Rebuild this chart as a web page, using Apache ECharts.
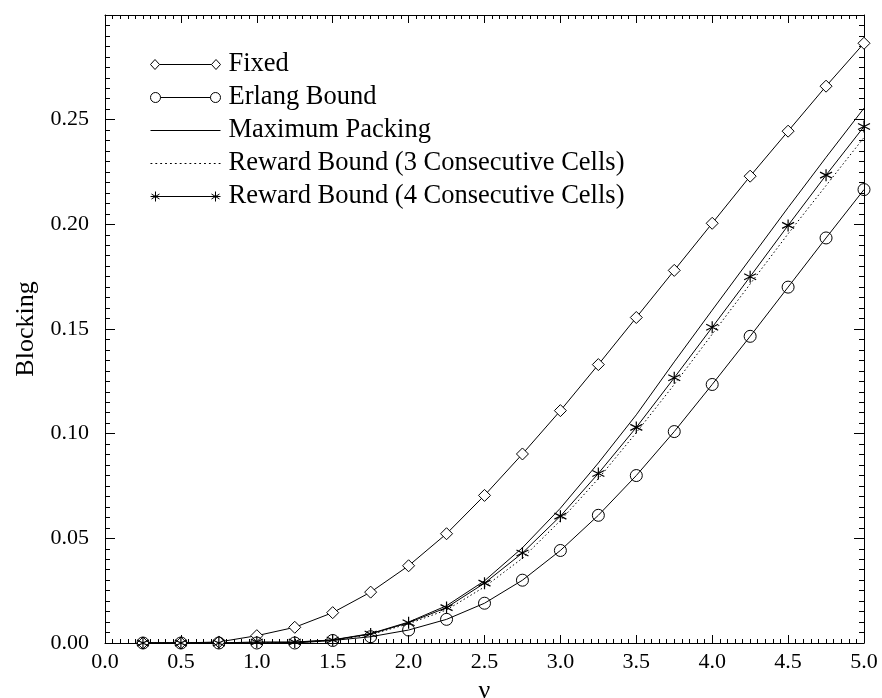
<!DOCTYPE html>
<html>
<head>
<meta charset="utf-8">
<script src="https://cdn.jsdelivr.net/npm/echarts@6/dist/echarts.min.js"></script>
<style>
html,body{margin:0;padding:0;background:#fff;}
#chart{width:882px;height:698px;}
</style>
</head>
<body>
<div id="chart"></div>
<script>
// ---- data ----
var nuValues = [0.25, 0.5, 0.75, 1.0, 1.25, 1.5, 1.75, 2.0, 2.25, 2.5, 2.75, 3.0, 3.25, 3.5, 3.75, 4.0, 4.25, 4.5, 4.75, 5.0];
var fixed = [0, 0, 0.0005, 0.0035, 0.0075, 0.0145, 0.0243, 0.0369, 0.0522, 0.0705, 0.0903, 0.111, 0.133, 0.1555, 0.178, 0.2005, 0.223, 0.2445, 0.266, 0.2865];
var erlangBound = [0, 0, 0, 0, 0, 0.0012, 0.003, 0.0062, 0.0113, 0.019, 0.030, 0.0442, 0.061, 0.080, 0.101, 0.1235, 0.1465, 0.170, 0.1935, 0.2166];
var maximumPacking = [0, 0, 0, 0, 0.0003, 0.0015, 0.0045, 0.0100, 0.0178, 0.0297, 0.0455, 0.0644, 0.086, 0.109, 0.1343, 0.159, 0.1835, 0.208, 0.232, 0.2555];
var reward3 = [0, 0, 0, 0, 0.0003, 0.0013, 0.0040, 0.0092, 0.0158, 0.0268, 0.0405, 0.0585, 0.0785, 0.1005, 0.1235, 0.1475, 0.1715, 0.1955, 0.2185, 0.2415];
var reward4 = [0, 0, 0, 0.0005, 0.0005, 0.0014, 0.0043, 0.0097, 0.0169, 0.0286, 0.043, 0.0606, 0.081, 0.103, 0.1267, 0.1508, 0.175, 0.1995, 0.2235, 0.2467];
var seriesNames = ['Fixed', 'Erlang Bound', 'Maximum Packing', 'Reward Bound (3 Consecutive Cells)', 'Reward Bound (4 Consecutive Cells)'];
var xTicks = {min: 0, max: 5, interval: 0.5};
var yTicks = {min: 0, max: 0.3, interval: 0.05};

function pairs(ys) { return nuValues.map(function (x, i) { return [x, ys[i]]; }); }

var FONT = 'Liberation Serif';
var starPath = 'path://M6 0 L6 12 M0.8 3 L11.2 9 M0.8 9 L11.2 3';
var legendFixed = 'path://M0 6 L4.5 1 L9 6 L4.5 11 Z M9 6 L61 6 M61 6 L65.5 1 L70 6 L65.5 11 Z';
var legendErlang = 'path://M0 6 A5 5 0 1 1 10 6 A5 5 0 1 1 0 6 Z M10 6 L60 6 M60 6 A5 5 0 1 1 70 6 A5 5 0 1 1 60 6 Z';
var legendStar = 'path://M0 6 L70 6 M5 1 L5 11 M1 3.5 L9 8.5 M1 8.5 L9 3.5 M65 1 L65 11 M61 3.5 L69 8.5 M61 8.5 L69 3.5';
var legendSolid = 'path://M4 5.5 L62 5.5 L62 6.5 L4 6.5 Z';
var legendDotted = (function () {
  var s = 'path://';
  for (var x = 2; x < 62; x += 4) { s += 'M' + x + ' 5.5 L' + (x + 1.5) + ' 5.5 L' + (x + 1.5) + ' 6.5 L' + x + ' 6.5 Z '; }
  return s;
})();
var legendIconStyle = {color: 'transparent', borderColor: '#000', borderWidth: 1};
var legendFillStyle = {color: '#000', borderWidth: 0, borderColor: 'transparent'};

var chart = echarts.init(document.getElementById('chart'), null, {renderer: 'canvas'});

function xAxisDef(pos, showLabel) {
  return {
    type: 'value', position: pos, min: xTicks.min, max: xTicks.max, interval: xTicks.interval,
    name: showLabel ? 'ν' : '', nameLocation: 'middle', nameGap: 31,
    nameTextStyle: {fontFamily: FONT, fontSize: 26, color: '#000'},
    axisLine: {show: true, onZero: false, lineStyle: {color: '#000', width: 1}},
    axisTick: {show: true, inside: true, length: 8, lineStyle: {color: '#000', width: 1}},
    minorTick: {show: true, splitNumber: 10, length: 4, lineStyle: {color: '#000', width: 1}},
    splitLine: {show: false}, minorSplitLine: {show: false},
    axisLabel: {show: showLabel, margin: 8, color: '#000', fontFamily: FONT, fontSize: 22,
      formatter: function (v) { return v.toFixed(1); }}
  };
}
function yAxisDef(pos, showLabel) {
  return {
    type: 'value', position: pos, min: yTicks.min, max: yTicks.max, interval: yTicks.interval,
    name: showLabel ? 'Blocking' : '', nameLocation: 'middle', nameGap: 62, nameRotate: 90,
    nameTextStyle: {fontFamily: FONT, fontSize: 26, color: '#000'},
    axisLine: {show: true, onZero: false, lineStyle: {color: '#000', width: 1}},
    axisTick: {show: true, inside: true, length: 10, lineStyle: {color: '#000', width: 1}},
    minorTick: {show: true, splitNumber: 10, length: 5, lineStyle: {color: '#000', width: 1}},
    splitLine: {show: false}, minorSplitLine: {show: false},
    axisLabel: {show: showLabel, margin: 16, color: '#000', fontFamily: FONT, fontSize: 22,
      formatter: function (v) { return v > 0.29 ? '' : v.toFixed(2); }}
  };
}

var option = {
  animation: false,
  backgroundColor: '#fff',
  grid: {left: 105, right: 18, top: 15, bottom: 55, containLabel: false, outerBoundsMode: 'none'},
  xAxis: [xAxisDef('bottom', true), xAxisDef('top', false)],
  yAxis: [yAxisDef('left', true), yAxisDef('right', false)],
  legend: {
    show: true, orient: 'vertical', left: 145, top: 46, align: 'left',
    itemWidth: 70, itemHeight: 12, itemGap: 6,
    textStyle: {fontFamily: FONT, fontSize: 26.5, color: '#000', lineHeight: 26, padding: [0, 0, 0, 3]},
    data: [
      {name: seriesNames[0], icon: legendFixed, itemStyle: legendIconStyle},
      {name: seriesNames[1], icon: legendErlang, itemStyle: legendIconStyle},
      {name: seriesNames[2], icon: legendSolid, itemStyle: legendFillStyle},
      {name: seriesNames[3], icon: legendDotted, itemStyle: legendFillStyle},
      {name: seriesNames[4], icon: legendStar, itemStyle: legendIconStyle}
    ]
  },
  series: [
    {
      name: seriesNames[0], type: 'line', data: pairs(fixed), clip: false,
      symbol: 'diamond', symbolSize: 12, showSymbol: true,
      itemStyle: {color: '#fff', borderColor: '#000', borderWidth: 1},
      lineStyle: {color: '#000', width: 1}, z: 3
    },
    {
      name: seriesNames[1], type: 'line', data: pairs(erlangBound), clip: false,
      symbol: 'circle', symbolSize: 12, showSymbol: true,
      itemStyle: {color: 'transparent', borderColor: '#000', borderWidth: 1},
      lineStyle: {color: '#000', width: 1}, z: 3
    },
    {
      name: seriesNames[2], type: 'line', data: pairs(maximumPacking), clip: false,
      symbol: 'none', showSymbol: false,
      itemStyle: {color: '#000'},
      lineStyle: {color: '#000', width: 1}
    },
    {
      name: seriesNames[3], type: 'line', data: pairs(reward3), clip: false,
      symbol: 'none', showSymbol: false,
      itemStyle: {color: '#000'},
      lineStyle: {color: '#000', width: 1, type: [1.5, 2.5]}
    },
    {
      name: seriesNames[4], type: 'line', data: pairs(reward4), clip: false,
      symbol: starPath, symbolSize: 12, showSymbol: true,
      itemStyle: {color: '#000', borderColor: '#000', borderWidth: 1.2},
      lineStyle: {color: '#000', width: 1}, z: 3
    }
  ]
};
chart.setOption(option);
</script>
</body>
</html>
